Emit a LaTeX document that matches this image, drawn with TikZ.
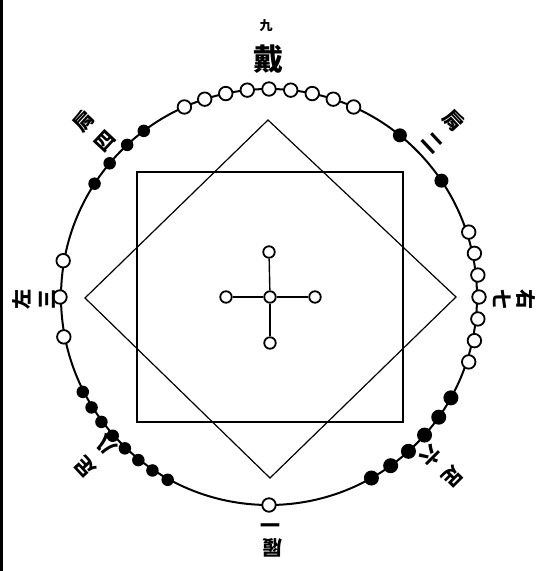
\documentclass[tikz,border=0pt]{standalone}
\usepackage{fontspec}
\newfontfamily\cjk{Noto Sans CJK TC}
\begin{document}
\begin{tikzpicture}[x=1pt,y=1pt,
  ring/.style={line width=2pt},
  frame/.style={line width=1.4pt},
  wdot/.style={circle,draw,line width=1.8pt,fill=white,inner sep=0pt,minimum size=13.5pt},
  bdot/.style={circle,fill=black,inner sep=0pt,minimum size=12pt},
  lab/.style={font=\cjk\bfseries\fontsize{20}{20}\selectfont,inner sep=0pt},
  link/.style={line width=1.4pt}]
\useasboundingbox (0,0) rectangle (541,571);
\draw[line width=3pt] (1.5,0) -- (1.5,571);
% square and diamond
\draw[frame] (137,149) rectangle (403,399);
\node[coordinate] (dt) at (268,451) {};
\node[coordinate] (dr) at (456,274) {};
\node[coordinate] (db) at (270,93) {};
\node[coordinate] (dl) at (85,273) {};
\draw[line width=1.2pt] (dt) -- (dr) -- (db) -- (dl) -- cycle;
% ring
\begin{scope}[shift={(269,274)}]
\draw[ring] (0,0) circle (208pt);
\foreach \a [count=\i] in {114,108,102,96,90,84,78,72,66}
  \node[wdot] (t\i) at (\a:208pt) {};
\foreach \a [count=\i] in {51,34}
  \node[bdot,minimum size=14pt] (tr\i) at (\a:208pt) {};
\foreach \a [count=\i] in {18,12,6,0,-6,-12,-18}
  \node[wdot] (r\i) at (\a:210pt) {};
\foreach \a [count=\i] in {-29,-35.3,-41.6,-47.9,-54.2,-60.5}
  \node[bdot,minimum size=15pt] (br\i) at (\a:208pt) {};
\node[wdot] (b1) at (270:208pt) {};
\foreach \a [count=\i] in {207,211.9,216.7,221.6,226.4,231.3,236.1,241}
  \node[bdot,minimum size=12.5pt] (bl\i) at (\a:209pt) {};
\foreach \a [count=\i] in {170,180,191}
  \node[wdot] (l\i) at (\a:209pt) {};
\foreach \a [count=\i] in {127,133,140,147}
  \node[bdot,minimum size=12.5pt] (tl\i) at (\a:208pt) {};
\end{scope}
% center cross
\node[wdot,minimum size=11.5pt] (c0) at (270,274) {};
\node[wdot,minimum size=11.5pt] (cN) at (269,319) {};
\node[wdot,minimum size=11.5pt] (cS) at (270,228) {};
\node[wdot,minimum size=11.5pt] (cW) at (226,274) {};
\node[wdot,minimum size=11.5pt] (cE) at (315,274) {};
\draw[link] (c0) -- (cN);
\draw[link] (c0) -- (cS);
\draw[link] (c0) -- (cW);
\draw[link] (c0) -- (cE);
% labels
\node[lab,font=\cjk\bfseries\fontsize{13}{13}\selectfont] (n9) at (266,545) {九};
\node[lab,font=\cjk\bfseries\fontsize{30}{30}\selectfont] (d9) at (268,512) {戴};
\node[lab,rotate=-47] (n2) at (432,428) {二};
\node[lab,rotate=-47] (j2) at (454,450) {肩};
\node[lab,rotate=-90] (n7) at (502,271) {七};
\node[lab,rotate=-90] (y7) at (526,271) {右};
\node[lab,rotate=-135] (n6) at (431,115) {六};
\node[lab,rotate=-135] (z6) at (453,94) {足};
\node[lab,rotate=180] (n1) at (270,49) {一};
\node[lab,rotate=180] (l1) at (272,23) {履};
\node[lab,rotate=133] (n8) at (106,126) {八};
\node[lab,rotate=133] (z8) at (85,104) {足};
\node[lab,rotate=90] (n3) at (47,271) {三};
\node[lab,rotate=90] (z3) at (22,271) {左};
\node[lab,rotate=47] (n4) at (105,430) {四};
\node[lab,rotate=47] (j4) at (84,450) {肩};
\end{tikzpicture}
\end{document}
